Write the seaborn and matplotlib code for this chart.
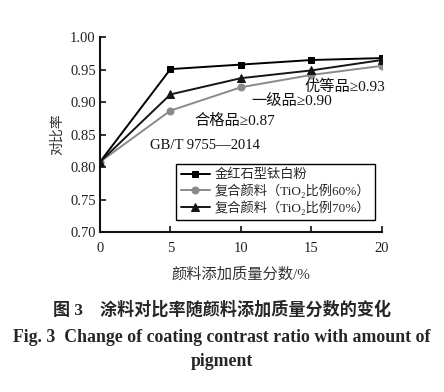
import matplotlib
matplotlib.use("Agg")
import matplotlib.pyplot as plt
import seaborn as sns

# 数据
x_vals = [0, 5, 10, 15, 20]
rutile = [0.808, 0.951, 0.958, 0.965, 0.968]
comp60 = [0.808, 0.887, 0.923, 0.942, 0.956]
comp70 = [0.808, 0.912, 0.937, 0.949, 0.965]
labels = ["金红石型钛白粉", "复合颜料（TiO₂比例60%）", "复合颜料（TiO₂比例70%）"]
notes = ["优等品≥0.93", "一级品≥0.90", "合格品≥0.87", "GB/T 9755—2014"]

sns.set_style("ticks")
fam = ["Liberation Serif", "Noto Sans CJK SC", "DejaVu Sans"]
plt.rcParams["font.family"] = fam

fig = plt.figure(figsize=(4.44, 3.92), dpi=100)
ax = fig.add_axes([0.2252, 0.4082, 0.6345, 0.4966])

sns.lineplot(x=x_vals, y=rutile, ax=ax, color="black", marker="s", markersize=5,
             linewidth=1.4, markeredgecolor="black", label=labels[0])
sns.lineplot(x=x_vals, y=comp60, ax=ax, color="#8a8a8a", marker="o", markersize=5,
             linewidth=1.4, markeredgecolor="#8a8a8a", label=labels[1])
sns.lineplot(x=x_vals, y=comp70, ax=ax, color="#151515", marker="^", markersize=5.5,
             linewidth=1.4, markeredgecolor="#151515", label=labels[2])

ax.set_xlim(0, 20)
ax.set_ylim(0.70, 1.00)
ax.set_xticks([0, 5, 10, 15, 20])
ax.set_yticks([0.70, 0.75, 0.80, 0.85, 0.90, 0.95, 1.00])
ax.set_yticklabels([f"{v:.2f}" for v in [0.70, 0.75, 0.80, 0.85, 0.90, 0.95, 1.00]])
ax.tick_params(direction="in", length=4, width=1.3, labelsize=10.5, colors="#222222", pad=3)
ax.tick_params(axis="x", pad=7)
sns.despine(ax=ax)
for s in ["left", "bottom"]:
    ax.spines[s].set_linewidth(1.5)
    ax.spines[s].set_color("#111111")

ax.set_xlabel("颜料添加质量分数/%", fontsize=11, color="#333333", labelpad=9)
ax.set_ylabel("对比率", fontsize=10, color="#333333", labelpad=4)

# 标准注释
ax.text(17.4, 0.923, notes[0], fontsize=11, ha="center", va="center", color="#111111")
ax.text(13.6, 0.902, notes[1], fontsize=11, ha="center", va="center", color="#111111")
ax.text(9.55, 0.871, notes[2], fontsize=11, ha="center", va="center", color="#111111")
ax.text(7.45, 0.834, notes[3], fontsize=10.5, ha="center", va="center", color="#111111")

leg = ax.legend(loc="lower right", bbox_to_anchor=(1.0, 0.03), fontsize=9.5,
                frameon=True, fancybox=False, edgecolor="black", framealpha=1,
                handlelength=2.2, borderpad=0.35, labelspacing=0.15, handletextpad=0.4)
leg.get_frame().set_linewidth(1.0)

# 图题
fig.text(0.5, 1 - 310 / 392, "图 3　涂料对比率随颜料添加质量分数的变化", ha="center", va="center",
         fontsize=12.3, fontweight="bold", family=["Liberation Serif", "Noto Sans CJK SC"])
fig.text(0.5, 1 - 337 / 392, "Fig. 3  Change of coating contrast ratio with amount of",
         ha="center", va="center", fontsize=12.8, fontweight="bold")
fig.text(0.5, 1 - 362 / 392, "pigment", ha="center", va="center", fontsize=12.8, fontweight="bold")

fig.savefig("out.png", dpi=100)
